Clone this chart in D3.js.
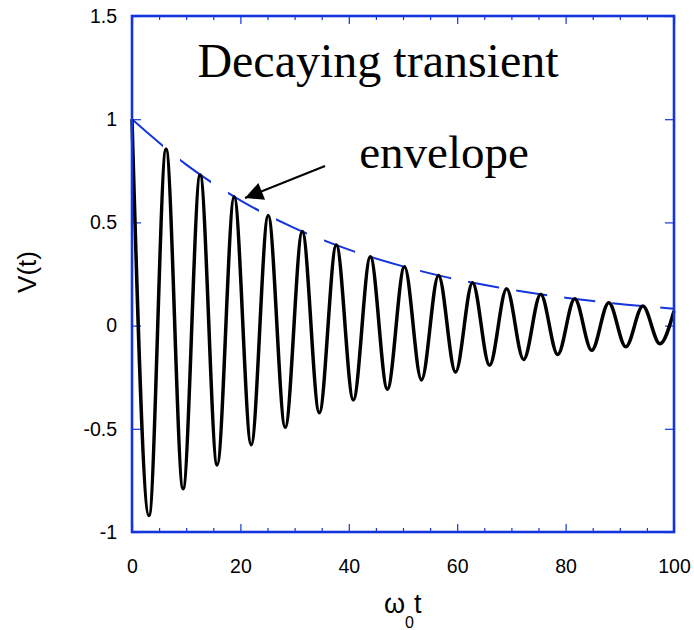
<!DOCTYPE html>
<html>
<head>
<meta charset="utf-8">
<script src="https://cdn.jsdelivr.net/npm/d3@7"></script>
<style>
  body { margin: 0; background: #fff; }
  svg { display: block; }
</style>
</head>
<body>
<div id="chart"></div>
<script>
// peaks and troughs of the ringing signal
var peakT = [0, 3.14, 6.28, 9.42, 12.57, 15.71, 18.85, 21.99, 25.13, 28.27, 31.42,
  34.56, 37.70, 40.84, 43.98, 47.12, 50.27, 53.41, 56.55, 59.69, 62.83,
  65.97, 69.12, 72.26, 75.40, 78.54, 81.68, 84.82, 87.96, 91.11, 94.25, 97.39, 100];
var peakV = [1, -0.92, 0.855, -0.79, 0.73, -0.675, 0.624, -0.577, 0.534, -0.493, 0.456,
  -0.422, 0.39, -0.36, 0.333, -0.308, 0.285, -0.263, 0.243, -0.225, 0.208,
  -0.192, 0.178, -0.164, 0.152, -0.14, 0.13, -0.12, 0.111, -0.103, 0.095, -0.088, 0.071];

// decay envelope
var envT = [0, 10, 20, 30, 40, 50, 60, 70, 80, 90, 100];
var envV = [1, 0.78, 0.607, 0.472, 0.368, 0.287, 0.223, 0.174, 0.135, 0.105, 0.082];

var xMajor = [0, 20, 40, 60, 80, 100];
var xMinor = [5, 10, 15, 25, 30, 35, 45, 50, 55, 65, 70, 75, 85, 90, 95];
var yMajor = [-1, -0.5, 0, 0.5, 1, 1.5];

var width = 694, height = 630,
    mLeft = 132, mRight = 674, mTop = 16, mBottom = 532,
    blue = '#1434dc';

var svg = d3.select('#chart').append('svg')
  .attr('width', width)
  .attr('height', height);

var x = d3.scaleLinear().domain([0, 100]).range([mLeft, mRight]);
var y = d3.scaleLinear().domain([-1, 1.5]).range([mBottom, mTop]);

/*---------- AXES ----------*/

function styleAxis(g){
  g.select('.domain').remove();
  g.selectAll('.tick line').attr('stroke', blue).attr('stroke-width', 1.2);
  g.selectAll('.tick text')
    .attr('fill', '#000')
    .style('font-family', '"Liberation Sans", Arial, sans-serif')
    .style('font-size', '19.5px');
}

svg.append('g')
  .attr('transform', 'translate(0,' + mBottom + ')')
  .call(d3.axisBottom(x).tickValues(xMajor).tickSize(-8).tickPadding(27)
    .tickFormat(function(d){ return String(d); }))
  .call(styleAxis);

svg.append('g')
  .attr('transform', 'translate(0,' + mBottom + ')')
  .call(d3.axisBottom(x).tickValues(xMinor).tickSize(-4).tickFormat(''))
  .call(styleAxis);

svg.append('g')
  .attr('transform', 'translate(0,' + mTop + ')')
  .call(d3.axisTop(x).tickValues(xMajor).tickSize(-8).tickFormat(''))
  .call(styleAxis);

svg.append('g')
  .attr('transform', 'translate(0,' + mTop + ')')
  .call(d3.axisTop(x).tickValues(xMinor).tickSize(-4).tickFormat(''))
  .call(styleAxis);

svg.append('g')
  .attr('transform', 'translate(' + mLeft + ',0)')
  .call(d3.axisLeft(y).tickValues(yMajor).tickSize(-9).tickPadding(15)
    .tickFormat(function(d){ return String(d); }))
  .call(styleAxis);

svg.append('g')
  .attr('transform', 'translate(' + mRight + ',0)')
  .call(d3.axisRight(y).tickValues(yMajor).tickSize(-9).tickFormat(''))
  .call(styleAxis);

/*---------- ENVELOPE (dashes cut along x) ----------*/

var clip = svg.append('clipPath').attr('id', 'dashes');
for(var t = 0; t < 100; t += 8.86){
  clip.append('rect')
    .attr('x', x(t))
    .attr('y', mTop)
    .attr('width', x(t + 5.72) - x(t))
    .attr('height', mBottom - mTop);
}

var envLine = d3.line()
  .x(function(d, i){ return x(envT[i]); })
  .y(function(d){ return y(d); })
  .curve(d3.curveMonotoneX);

svg.append('path')
  .datum(envV)
  .attr('clip-path', 'url(#dashes)')
  .attr('fill', 'none')
  .attr('stroke', blue)
  .attr('stroke-width', 2)
  .attr('d', envLine);

/*---------- SIGNAL ----------*/

var sigLine = d3.line()
  .x(function(d, i){ return x(peakT[i]); })
  .y(function(d){ return y(d); })
  .curve(d3.curveMonotoneX);

svg.append('path')
  .datum(peakV)
  .attr('fill', 'none')
  .attr('stroke', '#000')
  .attr('stroke-width', 3.5)
  .attr('stroke-linejoin', 'round')
  .attr('d', sigLine);

/*---------- FRAME ----------*/

svg.append('rect')
  .attr('x', mLeft)
  .attr('y', mTop)
  .attr('width', mRight - mLeft)
  .attr('height', mBottom - mTop)
  .attr('fill', 'none')
  .attr('stroke', blue)
  .attr('stroke-width', 2.6);

/*---------- LABELS ----------*/

var serif = '"Liberation Serif", "Times New Roman", serif',
    sans = '"Liberation Sans", Arial, sans-serif';

svg.append('text')
  .attr('x', 378)
  .attr('y', 77)
  .attr('text-anchor', 'middle')
  .style('font-family', serif)
  .style('font-size', '48px')
  .text('Decaying transient');

svg.append('text')
  .attr('x', 444)
  .attr('y', 168)
  .attr('text-anchor', 'middle')
  .style('font-family', serif)
  .style('font-size', '47px')
  .text('envelope');

// arrow pointing at the envelope
svg.append('defs').append('marker')
  .attr('id', 'head')
  .attr('viewBox', '0 0 10 10')
  .attr('refX', 10)
  .attr('refY', 5)
  .attr('markerWidth', 22)
  .attr('markerHeight', 18)
  .attr('markerUnits', 'userSpaceOnUse')
  .attr('orient', 'auto')
  .append('path')
    .attr('d', 'M0,0L10,5L0,10Z')
    .attr('fill', '#000');

svg.append('line')
  .attr('x1', 325).attr('y1', 166)
  .attr('x2', 245).attr('y2', 198)
  .attr('stroke', '#000')
  .attr('stroke-width', 2)
  .attr('marker-end', 'url(#head)');

svg.append('text')
  .attr('transform', 'translate(36,272) rotate(-90)')
  .attr('text-anchor', 'middle')
  .style('font-family', sans)
  .style('font-size', '26px')
  .text('V(t)');

var xl = svg.append('text')
  .attr('x', 384)
  .attr('y', 613)
  .style('font-family', sans)
  .style('font-size', '27px');
xl.append('tspan').text('ω');
xl.append('tspan').attr('dy', 15).style('font-size', '16px').text('0');
xl.append('tspan').attr('dy', -15).text('t');
</script>
</body>
</html>
